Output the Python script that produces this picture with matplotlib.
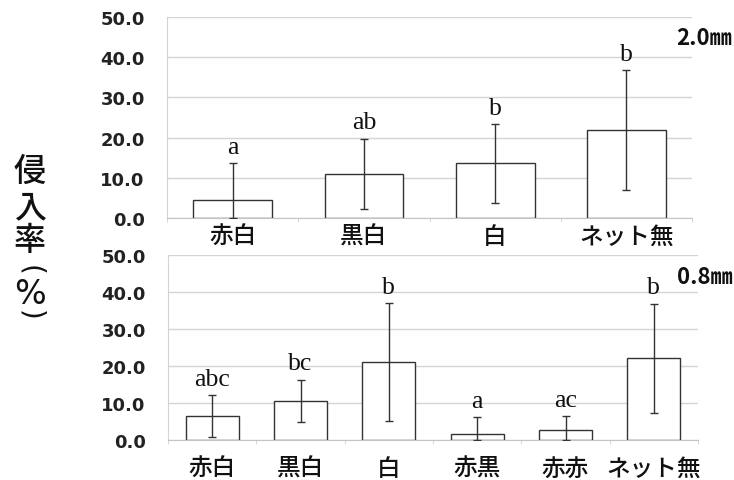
import matplotlib
matplotlib.use("Agg")
import matplotlib.pyplot as plt
import numpy as np

# ---- data ----
top_categories = ["赤白", "黒白", "白", "ネット無"]
top_values = [4.5, 11.0, 13.6, 21.8]
top_errors = [9.1, 8.7, 9.8, 14.9]
top_letters = ["a", "ab", "b", "b"]
top_title = "2.0㎜"

bot_categories = ["赤白", "黒白", "白", "赤黒", "赤赤", "ネット無"]
bot_values = [6.5, 10.6, 21.0, 1.6, 2.7, 22.1]
bot_errors = [5.6, 5.7, 15.9, 4.5, 3.8, 14.7]
bot_letters = ["abc", "bc", "b", "a", "ac", "b"]
bot_title = "0.8㎜"

yticks = [0, 10, 20, 30, 40, 50]
ytick_labels = ["0.0", "10.0", "20.0", "30.0", "40.0", "50.0"]
ylabel_chars = ["侵", "入", "率", "(", "%", ")"]

W, H = 734, 481
fig = plt.figure(figsize=(W / 100, H / 100), dpi=100)

CJK = ["Noto Sans CJK JP", "DejaVu Sans"]


def px(x0, y0, x1, y1):
    return [x0 / W, 1 - y1 / H, (x1 - x0) / W, (y1 - y0) / H]


def panel(ax, cats, vals, errs, letters, pad):
    x = np.arange(len(cats))
    ax.set_xlim(-0.5, len(cats) - 0.5)
    ax.set_ylim(0, 50)
    ax.set_yticks(yticks)
    ax.set_yticklabels(ytick_labels, fontfamily="DejaVu Sans",
                       fontweight="bold", fontsize=13, color="#222222")
    ax.yaxis.grid(True, color="#d4d4d4", linewidth=1.0)
    ax.set_axisbelow(True)
    for s in ["top", "right"]:
        ax.spines[s].set_visible(False)
    ax.spines["left"].set_color("#d4d4d4")
    ax.spines["bottom"].set_color("#c4c4c4")
    ax.tick_params(axis="y", length=0, pad=16)
    ax.tick_params(axis="x", length=0, pad=pad)
    ax.set_xticks(x)
    ax.set_xticklabels(cats, fontfamily=CJK, fontsize=17, fontweight="medium",
                       color="#111111")
    ax.set_xticks(np.arange(len(cats) + 1) - 0.5, minor=True)
    ax.tick_params(axis="x", which="minor", length=3, color="#d0d0d0",
                   direction="out")
    ax.bar(x, vals, width=0.6, color="white", edgecolor="#333333",
           linewidth=1.0, zorder=2)
    lower = np.minimum(np.array(errs), np.array(vals))
    ax.errorbar(x, vals, yerr=[lower, errs], fmt="none", ecolor="#333333",
                elinewidth=1.0, capsize=3, capthick=1.0, zorder=3)
    for xi, v, e, lab in zip(x, vals, errs, letters):
        ax.annotate(lab, (xi, v + e), xytext=(0, 7.5), textcoords="offset points",
                    ha="center", va="baseline", fontfamily="Liberation Serif",
                    fontsize=18.5, color="#111111")


ax1 = fig.add_axes(px(167, 18, 692, 219))
panel(ax1, top_categories, top_values, top_errors, top_letters, pad=5)
ax2 = fig.add_axes(px(168, 256, 698, 441))
panel(ax2, bot_categories, bot_values, bot_errors, bot_letters, pad=12)

fig.text(676 / W, 1 - 38.5 / H, top_title, fontfamily=["Noto Sans CJK JP"],
         fontweight="bold", fontsize=16, ha="left", va="center", color="#111111")
fig.text(677 / W, 1 - 277.5 / H, bot_title, fontfamily=["Noto Sans CJK JP"],
         fontweight="bold", fontsize=16, ha="left", va="center", color="#111111")

# vertical y label
ypos = [172, 208, 241, 270, 294.5, 315]
for ch, yy in zip(ylabel_chars, ypos):
    if ch in "()":
        fig.text(30 / W, 1 - yy / H, ch, fontfamily="DejaVu Sans", fontsize=20,
                 rotation=-90, ha="center", va="center", color="#111111")
    elif ch == "%":
        fig.text(30 / W, 1 - yy / H, ch, fontfamily="DejaVu Sans", fontsize=24,
                 ha="center", va="center", color="#111111")
    else:
        fig.text(30 / W, 1 - yy / H, ch, fontfamily=CJK, fontsize=23,
                 fontweight="medium", ha="center", va="center", color="#111111")

fig.savefig("out.png", dpi=100)
